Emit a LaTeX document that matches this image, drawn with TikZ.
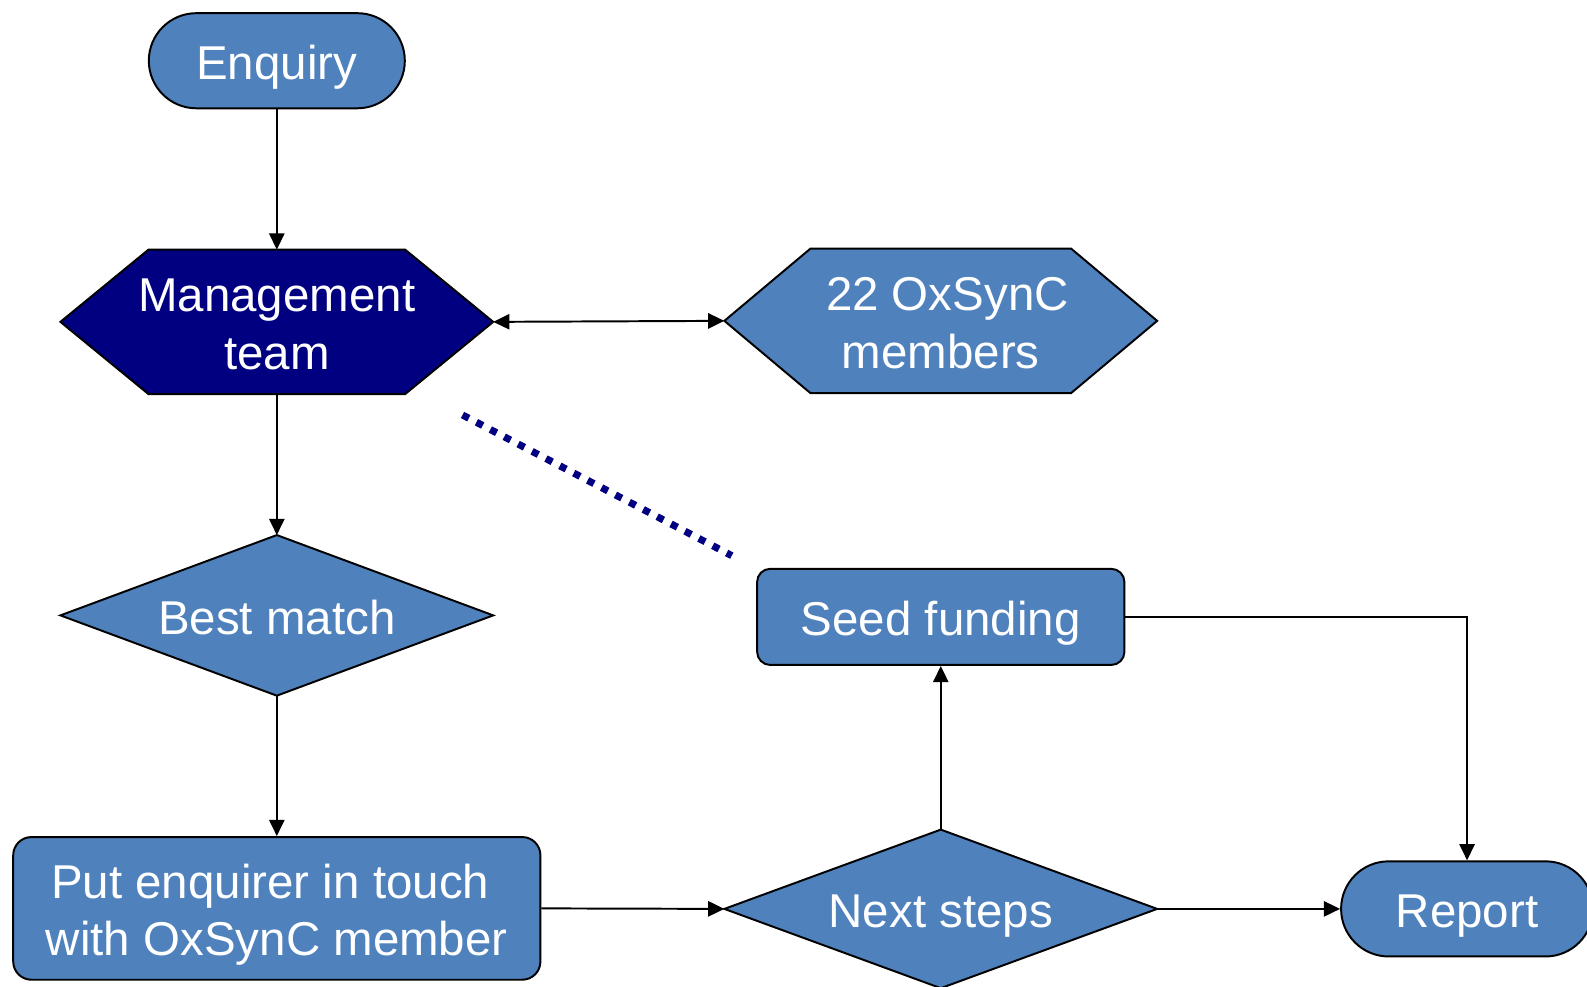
\documentclass[tikz,border=0pt]{standalone}
\usepackage{fontspec}
\setmainfont{Liberation Sans}
\usetikzlibrary{arrows.meta,backgrounds}
\definecolor{boxblue}{HTML}{4F81BD}
\definecolor{navyblue}{HTML}{000080}
\begin{document}
\begin{tikzpicture}[x=0.02cm,y=-0.02cm,
  lbl/.style={font=\fontsize{26.7}{32.4}\selectfont, text=white, align=center, inner sep=0pt,
    execute at begin node={\rule{0pt}{1.1em}}, execute at end node={\rule[-0.3em]{0pt}{0pt}}},
  ml/.style={execute at begin node={}, execute at end node={}, text height=53.3pt, text depth=0pt},
  stadium/.style={lbl, draw=black, line width=1.1pt, fill=boxblue, rounded corners=0.94cm, minimum height=1.88cm},
  rbox/.style={lbl, draw=black, line width=1.1pt, fill=boxblue},
  frame/.style={lbl, rectangle},
  outline/.style={draw=black, line width=1.1pt},
  tip/.tip={Triangle[length=0.32cm,width=0.3cm]},
  conn/.style={line width=1.1pt, -tip},
  dconn/.style={line width=1.1pt, tip-tip},
  dotline/.style={draw=navyblue, line width=0.14cm, dash pattern=on 0.14cm off 0.17cm}
]
\clip (0,0) rectangle (1568,975);

% nodes
\node[stadium, minimum width=5.06cm] (enq) at (273.5,60) {Enquiry};
\node[frame, ml, minimum width=8.54cm, minimum height=2.84cm] (mgmt) at (273.5,318) {Management\\team};
\node[frame, ml, minimum width=8.54cm, minimum height=2.84cm] (mem) at (929.5,317) {\hspace*{0.28em}22 OxSynC\\members};
\node[frame, minimum width=8.54cm, minimum height=3.16cm] (best) at (273.5,608) {Best match};
\node[rbox, ml, rounded corners=0.36cm, minimum width=10.42cm, minimum height=2.82cm] (put) at (273.5,897.5) {Put enquirer in touch\hspace*{0.28em}\\with OxSynC member};
\node[rbox, rounded corners=0.26cm, minimum width=7.26cm, minimum height=1.9cm] (seed) at (929.5,609.5) {Seed funding};
\node[frame, minimum width=8.54cm, minimum height=3.12cm] (next) at (929.5,898) {Next steps};
\node[stadium, minimum width=4.98cm] (report) at (1449.5,898) {Report};

% shape outlines behind the text
\begin{scope}[on background layer]
  \path[outline, fill=navyblue] (mgmt.west) -- ([xshift=1.74cm]mgmt.north west) -- ([xshift=-1.74cm]mgmt.north east)
     -- (mgmt.east) -- ([xshift=-1.74cm]mgmt.south east) -- ([xshift=1.74cm]mgmt.south west) -- cycle;
  \path[outline, fill=boxblue] (mem.west) -- ([xshift=1.70cm]mem.north west) -- ([xshift=-1.70cm]mem.north east)
     -- (mem.east) -- ([xshift=-1.70cm]mem.south east) -- ([xshift=1.70cm]mem.south west) -- cycle;
  \path[outline, fill=boxblue] (best.west) -- (best.north) -- (best.east) -- (best.south) -- cycle;
  \path[outline, fill=boxblue] (next.west) -- (next.north) -- (next.east) -- (next.south) -- cycle;
\end{scope}

% connectors
\draw[conn] (enq.south) -- (mgmt.north);
\draw[conn] (mgmt.south) -- (best.north);
\draw[conn] (best.south) -- (put.north);
\draw[dconn] (mgmt.east) -- (mem.west);
\draw[conn] (put.east) -- (next.west);
\draw[conn] (next.north) -- (seed.south);
\draw[conn] (seed.east) -| (report.north);
\draw[conn] (next.east) -- (report.west);

% dotted line
\coordinate (d1) at (457,410);
\coordinate (d2) at (723,549);
\draw[dotline] (d1) -- (d2);
\end{tikzpicture}
\end{document}
